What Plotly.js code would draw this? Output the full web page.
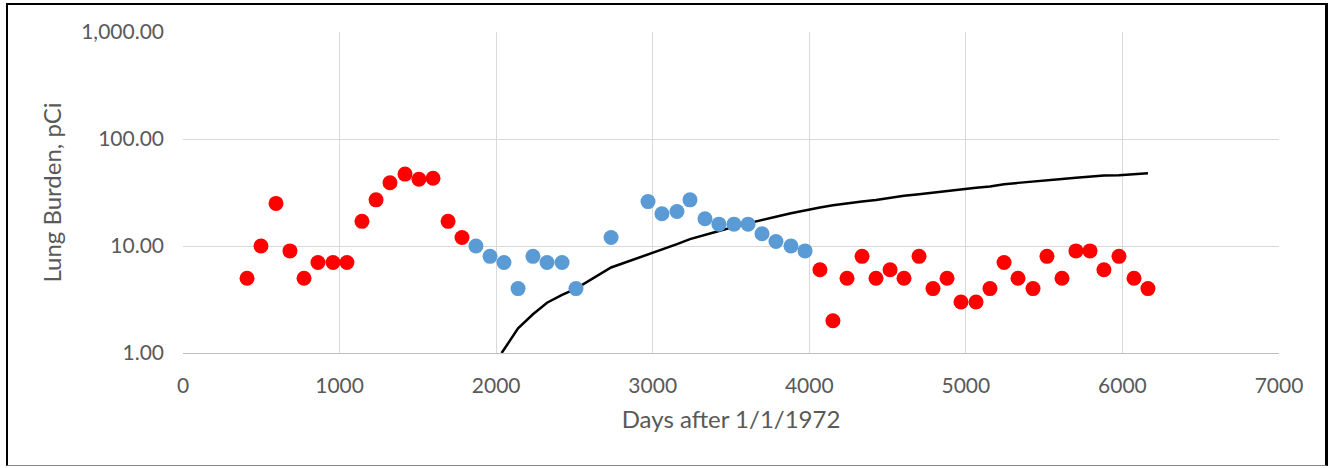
<!DOCTYPE html>
<html>
<head>
<meta charset="utf-8">
<script src="https://cdn.plot.ly/plotly-3.0.1.min.js"></script>
<style>
  html, body { margin: 0; padding: 0; background: #ffffff; }
  #frame { position: absolute; left: 6px; top: 3px; width: 1322px; height: 463px;
           border-left: 2px solid #000; border-top: 2px solid #000; border-right: 3px solid #000; border-bottom: 1px solid #888;
           box-sizing: border-box; pointer-events: none; z-index: 10; }
  #chart { position: absolute; left: 0; top: 0; width: 1332px; height: 468px; }
</style>
</head>
<body>
<div id="chart"></div>
<div id="frame"></div>
<script>
// Measured lung burden (red: outside the blue period)
const redDays = [409, 498, 594, 683, 773, 862, 958, 1047, 1143, 1233, 1322, 1418, 1507, 1597, 1693, 1782,
                 4068, 4151, 4241, 4337, 4426, 4516, 4605, 4701, 4790, 4880, 4969, 5065, 5154, 5244, 5333, 5429, 5518, 5614, 5703, 5793, 5882, 5978, 6074, 6163];
const redBurden = [5, 10, 25, 9, 5, 7, 7, 7, 17, 27, 39, 47, 42, 43, 17, 12,
                   6, 2, 5, 8, 5, 6, 5, 8, 4, 5, 3, 3, 4, 7, 5, 4, 8, 5, 9, 9, 6, 8, 5, 4];

// Measured lung burden (blue period)
const blueDays = [1871, 1961, 2050, 2140, 2235, 2325, 2421, 2510, 2734, 2970, 3059, 3155, 3238, 3334, 3423, 3519, 3609, 3698, 3787, 3883, 3973];
const blueBurden = [10, 8, 7, 4, 8, 7, 7, 4, 12, 26, 20, 21, 27, 18, 16, 16, 16, 13, 11, 10, 9];

// Model curve
const modelDays = [2035, 2140, 2235, 2325, 2421, 2510, 2734, 2970, 3059, 3155, 3238, 3334, 3423, 3519, 3609, 3698, 3787, 3883, 3973,
                   4068, 4151, 4241, 4337, 4426, 4516, 4605, 4701, 4790, 4880, 4969, 5065, 5154, 5244, 5333, 5429, 5518, 5614, 5703, 5793, 5882, 5978, 6074, 6163];
const modelBurden = [1.0, 1.7, 2.3, 2.95, 3.5, 4.0, 6.3, 8.3, 9.3, 10.4, 11.6, 12.6, 13.8, 15.1, 16.3, 17.6, 18.8, 20.2, 21.6,
                     22.9, 24.0, 25.1, 26.0, 26.9, 28.2, 29.5, 30.5, 31.6, 33.1, 34.3, 35.1, 35.9, 37.8, 38.9, 39.8, 40.9, 42.2, 43.5, 44.7, 45.5, 45.8, 46.8, 47.8];

const yTickVals = [1, 10, 100, 1000];
const yTickText = ["1.00", "10.00", "100.00", "1,000.00"];
const xTickVals = [0, 1000, 2000, 3000, 4000, 5000, 6000, 7000];

const FONT = "Lato, 'Open Sans', sans-serif";
const GREY = "#595959";

const traces = [
  { x: modelDays, y: modelBurden, mode: "lines", line: { color: "#000000", width: 2.5 }, hoverinfo: "skip", showlegend: false },
  { x: redDays, y: redBurden, mode: "markers", marker: { color: "#ff0000", size: 15 }, showlegend: false },
  { x: blueDays, y: blueBurden, mode: "markers", marker: { color: "#5b9bd5", size: 15 }, showlegend: false }
];

const layout = {
  width: 1332, height: 468,
  margin: { l: 183, r: 53, t: 32, b: 115 },
  paper_bgcolor: "#ffffff", plot_bgcolor: "#ffffff",
  font: { family: FONT, color: GREY, size: 21 },
  showlegend: false,
  xaxis: {
    range: [0, 7000], tickvals: xTickVals, ticks: "",
    showgrid: true, gridcolor: "#d9d9d9", gridwidth: 1,
    zeroline: false, showline: true, linecolor: "#bfbfbf", linewidth: 1,
    ticklabelstandoff: 14,
    tickfont: { family: FONT, color: GREY, size: 21 },
    title: { text: "Days after 1/1/1972", font: { family: FONT, color: GREY, size: 24 }, standoff: 14 }
  },
  yaxis: {
    type: "log", range: [0, 3], tickvals: yTickVals, ticktext: yTickText, ticks: "",
    showgrid: true, gridcolor: "#d9d9d9", gridwidth: 1,
    zeroline: false, showline: false,
    ticklabelstandoff: 18,
    tickfont: { family: FONT, color: GREY, size: 21 },
    title: { text: "Lung Burden, pCi", font: { family: FONT, color: GREY, size: 24 }, standoff: 12 }
  }
};

Plotly.newPlot("chart", traces, layout, { displayModeBar: false, staticPlot: true });
</script>
</body>
</html>
